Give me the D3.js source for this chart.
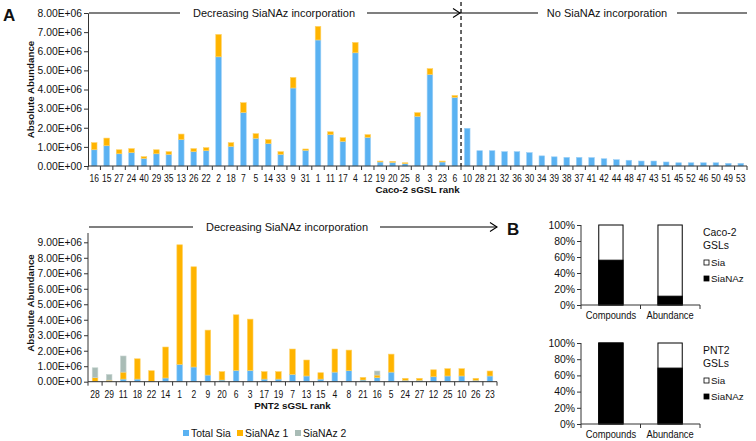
<!DOCTYPE html>
<html><head><meta charset="utf-8">
<script src="https://cdn.jsdelivr.net/npm/d3@7"></script>
<style>body{margin:0;background:#fff} text{font-family:Arial,"Liberation Sans",sans-serif;fill:#111}</style>
</head><body><svg id="c" width="756" height="441"></svg>
<script>
// ---------- DATA (abundance values in millions) ----------
const cacoRanks = ["16","15","27","24","40","29","35","13","26","22","2","18","7","5","14","33","9","31","1","11","17","4","12","19","20","25","8","3","23","6",
  "10","28","21","32","36","30","34","39","38","37","41","42","44","48","47","43","51","45","52","46","50","49","53"];
const cacoTotalSia = [0.85,1.06,0.64,0.70,0.40,0.64,0.61,1.38,0.75,0.80,5.71,1.03,2.80,1.45,1.17,0.61,4.08,0.82,6.59,1.64,1.29,5.92,1.50,0.21,0.19,0.12,2.60,4.79,0.21,3.59,
  1.97,0.80,0.80,0.75,0.75,0.70,0.53,0.48,0.45,0.45,0.44,0.38,0.33,0.30,0.26,0.26,0.21,0.17,0.17,0.17,0.17,0.14,0.14];
const cacoSiaNAz1 = [0.37,0.40,0.21,0.21,0.09,0.21,0.14,0.29,0.16,0.16,1.17,0.19,0.51,0.24,0.21,0.14,0.55,0.07,0.71,0.15,0.19,0.54,0.14,0.05,0.05,0.05,0.19,0.30,0.05,0.10,
  0,0,0,0,0,0,0,0,0,0,0,0,0,0,0,0,0,0,0,0,0,0,0];
const cacoSplitIndex = 30; // first rank with no SiaNAz incorporation

const pntRanks = ["28","29","11","18","22","14","1","2","9","20","6","3","17","19","7","13","15","4","8","21","16","5","24","27","12","25","10","26","23"];
const pntTotalSia = [0.02,0.01,0.17,0.17,0.03,0.24,1.12,0.95,0.43,0.11,0.73,0.73,0.17,0.17,0.47,0.37,0.17,0.62,0.71,0.11,0.26,0.62,0.09,0.09,0.32,0.37,0.37,0.09,0.37];
const pntSiaNAz1 = [0.24,0.09,0.45,1.31,0.68,2.00,7.72,6.47,2.90,0.54,3.59,3.31,0.48,0.48,1.64,1.03,0.41,1.49,1.33,0.17,0.17,1.16,0.13,0.13,0.45,0.47,0.47,0.13,0.32];
const pntSiaNAz2 = [0.64,0.37,1.04,0,0,0,0,0,0,0,0,0,0,0,0,0,0,0,0,0,0.26,0,0,0,0,0,0,0,0];

const yTicksCaco = [0,1,2,3,4,5,6,7,8];
const yTicksPnt = [0,1,2,3,4,5,6,7,8,9];

const bCategories = ["Compounds","Abundance"];
const cacoBSiaNAz = [56,11];
const pntBSiaNAz = [100,69];
const pctTicks = [0,20,40,60,80,100];

const seriesNames = ["Total Sia","SiaNAz 1","SiaNAz 2"];
const seriesColors = ["#5AB2F2","#FFB400","#A9BCB6"];
const seriesEdge = ["#9CD0F7","#FFD266","#C9D6D2"];

// ---------- DRAW ----------
const svg = d3.select("#c");
const axisColor = "#333";
const fmtE = v => v === 0 ? "0.00E+00" : v.toFixed(2) + "E+06";
const FF = "Arial, 'Liberation Sans', sans-serif";

function stackedChart(opt){
  const g = svg.append("g");
  const rows = opt.cats.map((c,i)=>{ const r={cat:c}; opt.series.forEach((s,j)=>r["s"+j]=s[i]); return r;});
  const keys = opt.series.map((s,j)=>"s"+j);
  const x = d3.scaleBand().domain(opt.cats).range([opt.x0,opt.x1]).paddingInner(opt.pad).paddingOuter(opt.pad/2);
  const y = d3.scaleLinear().domain([0,opt.yMax]).range([opt.yb,opt.yt]);
  const stack = d3.stack().keys(keys)(rows);
  stack.forEach((layer,j)=>{
    g.append("g").selectAll("rect").data(layer.filter(d=>d[1]-d[0]>0)).join("rect")
      .attr("x",d=>x(d.data.cat)).attr("width",x.bandwidth())
      .attr("y",d=>y(d[1])).attr("height",d=>y(d[0])-y(d[1]))
      .attr("fill",opt.colors[j]).attr("stroke",seriesEdge[j]).attr("stroke-width",0.6);
  });
  const ya = g.append("g").attr("transform",`translate(${opt.x0},0)`)
    .call(d3.axisLeft(y).tickValues(opt.ticks).tickFormat(fmtE).tickSize(4).tickPadding(2));
  ya.select(".domain").attr("stroke",axisColor);
  if(opt.yLineTop!==undefined) ya.select(".domain").attr("d",`M0,${opt.yLineTop}V${opt.yb}`);
  ya.selectAll(".tick line").attr("stroke",axisColor);
  ya.selectAll(".tick text").attr("font-size","10.3px").attr("font-family",FF).attr("fill","#111");
  const xa = g.append("g").attr("transform",`translate(0,${opt.yb})`)
    .call(d3.axisBottom(x).tickSize(0).tickPadding(9));
  xa.select(".domain").attr("stroke",axisColor).attr("d",`M${opt.x0},0H${opt.x1}`);
  xa.selectAll(".tick text").attr("font-size","10.4px").attr("font-family",FF).attr("fill","#111")
    .attr("transform","scale(0.82,1)");
  const step = x.step();
  g.append("g").selectAll("line").data(d3.range(opt.cats.length+1)).join("line")
    .attr("x1",i=>opt.x0 + i*step).attr("x2",i=>opt.x0 + i*step)
    .attr("y1",opt.yb).attr("y2",opt.yb+4).attr("stroke",axisColor);
  g.append("text").attr("x",(opt.x0+opt.x1)/2).attr("y",opt.yb+27).attr("text-anchor","middle")
    .attr("font-size","9.8px").attr("font-weight","bold").text(opt.xTitle);
  g.append("text").attr("transform",`translate(34,${(opt.yb+opt.yt)/2 + (opt.ytDy||0)}) rotate(-90)`).attr("text-anchor","middle")
    .attr("font-size","9.8px").attr("font-weight","bold").text("Absolute Abundance");
  return {x,y,g};
}

function hline(x1,x2,y){ svg.append("line").attr("x1",x1).attr("x2",x2).attr("y1",y).attr("y2",y).attr("stroke","#000").attr("stroke-width",1.2); }
function arrowHead(x,y){ svg.append("path").attr("d",`M${x-7},${y-4.5}L${x},${y}L${x-7},${y+4.5}`).attr("fill","none").attr("stroke","#000").attr("stroke-width",1.1); }
function label(x,y,t,size,anchor,weight){ return svg.append("text").attr("x",x).attr("y",y).attr("font-size",size).attr("text-anchor",anchor||"start").attr("font-weight",weight||"normal").text(t); }

// Panel A upper: Caco-2
const chartCaco = stackedChart({cats:cacoRanks, series:[cacoTotalSia,cacoSiaNAz1], colors:seriesColors, x0:88, x1:747, yb:166, yt:13, yMax:8, ticks:yTicksCaco, pad:0.55, xTitle:"Caco-2 sGSL rank", ytDy:0});
const splitX = chartCaco.x(cacoRanks[cacoSplitIndex]) - chartCaco.x.step()*chartCaco.x.paddingInner()/2;
svg.append("line").attr("x1",splitX).attr("x2",splitX).attr("y1",2).attr("y2",166).attr("stroke","#000").attr("stroke-width",1.2).attr("stroke-dasharray","4,3");
hline(89,180,13); label(274,17,"Decreasing SiaNAz incorporation","11px","middle");
hline(367,splitX,13); arrowHead(splitX-1,13);
hline(splitX,538,13); label(607,17,"No SiaNAz incorporation","11px","middle"); hline(677,747,13);

// Panel A lower: PNT2
const chartPnt = stackedChart({cats:pntRanks, series:[pntTotalSia,pntSiaNAz1,pntSiaNAz2], colors:seriesColors, x0:88, x1:497, yb:381.7, yt:242.3, yMax:9, ticks:yTicksPnt, pad:0.6, xTitle:"PNT2 sGSL rank", yLineTop:233, ytDy:-9});
hline(89,193,227); label(287,231,"Decreasing SiaNAz incorporation","11px","middle");
hline(380,497,227); arrowHead(497,227);

const legX = [183,237,295];
seriesNames.forEach((n,i)=>{
  svg.append("rect").attr("x",legX[i]).attr("y",430).attr("width",6).attr("height",6).attr("fill",seriesColors[i]);
  label(legX[i]+8,437,n,"10.4px");
});

label(3,21,"A","17px","start","bold");
label(507,235,"B","17px","start","bold");

// Panel B
function pctChart(yb,yt,vals,t1,t2,ly){
  const g = svg.append("g");
  const x = d3.scaleBand().domain(bCategories).range([581,700]).paddingInner(0.59).paddingOuter(0.3);
  const y = d3.scaleLinear().domain([0,100]).range([yb,yt]);
  g.selectAll("rect.n").data(bCategories).join("rect")
    .attr("x",c=>x(c)).attr("width",x.bandwidth()).attr("y",y(100)).attr("height",yb-y(100))
    .attr("fill","#fff").attr("stroke","#000").attr("stroke-width",1);
  g.selectAll("rect.a").data(vals).join("rect")
    .attr("x",(d,i)=>x(bCategories[i])).attr("width",x.bandwidth()).attr("y",d=>y(d)).attr("height",d=>yb-y(d))
    .attr("fill","#000").attr("stroke","#000").attr("stroke-width",1);
  const ya = g.append("g").attr("transform","translate(581,0)")
    .call(d3.axisLeft(y).tickValues(pctTicks).tickFormat(d=>d+"%").tickSize(4).tickPadding(2));
  ya.select(".domain").attr("stroke",axisColor).attr("d",`M0,${yt}V${yb}`);
  ya.selectAll(".tick line").attr("stroke",axisColor);
  ya.selectAll(".tick text").attr("font-size","10.4px").attr("font-family",FF).attr("fill","#111");
  const xa = g.append("g").attr("transform",`translate(0,${yb})`).call(d3.axisBottom(x).tickSize(0).tickPadding(7));
  xa.select(".domain").attr("stroke",axisColor).attr("d",`M581,0H700`);
  xa.selectAll(".tick text").attr("font-size","10.4px").attr("font-family",FF).attr("fill","#111").attr("transform","scale(0.9,1)");
  [581, 581 + (700-581)/2, 700].forEach(px=>g.append("line").attr("x1",px).attr("x2",px).attr("y1",yb).attr("y2",yb+4).attr("stroke",axisColor));
  label(703,ly,t1,"10.4px"); label(703,ly+13,t2,"10.4px");
  g.append("rect").attr("x",704).attr("y",ly+24).attr("width",5).attr("height",5).attr("fill","#fff").attr("stroke","#000").attr("stroke-width",0.8);
  label(711,ly+30,"Sia","9.8px");
  g.append("rect").attr("x",704).attr("y",ly+40).attr("width",5).attr("height",5).attr("fill","#000").attr("stroke","#000").attr("stroke-width",0.8);
  label(711,ly+46,"SiaNAz","9.8px");
}
pctChart(305,225,cacoBSiaNAz,"Caco-2","GSLs",236);
pctChart(424,343,pntBSiaNAz,"PNT2","GSLs",354);
</script></body></html>
